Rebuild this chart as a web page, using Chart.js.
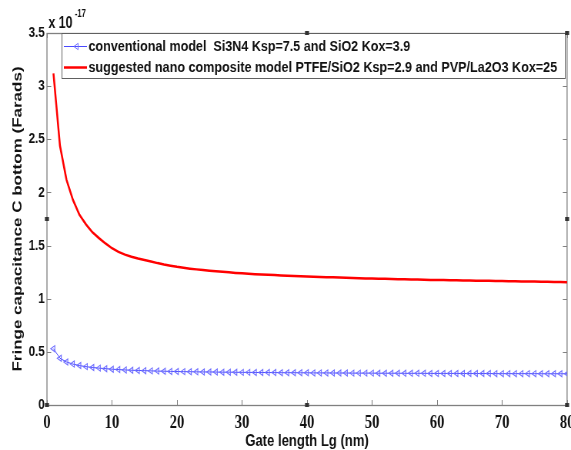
<!DOCTYPE html>
<html>
<head>
<meta charset="utf-8">
<script src="https://cdn.jsdelivr.net/npm/chart.js@4/dist/chart.umd.min.js"></script>
<style>
html,body{margin:0;padding:0;overflow:hidden;background:#fff;width:571px;height:450px;}
#wrap{width:742px;height:450px;transform:scaleX(0.76954);transform-origin:0 0;}
</style>
</head>
<body>
<div id="wrap"><canvas id="c" width="742" height="450"></canvas></div>
<script>
// ---- data ----
const gateLength = [1,2,3,4,5,6,7,8,9,10,11,12,13,14,15,16,17,18,19,20,21,22,23,24,25,26,27,28,29,30,31,32,33,34,35,36,37,38,39,40,41,42,43,44,45,46,47,48,49,50,51,52,53,54,55,56,57,58,59,60,61,62,63,64,65,66,67,68,69,70,71,72,73,74,75,76,77,78,79,80];
const conventional = [0.53,0.44,0.405,0.385,0.371,0.361,0.353,0.347,0.342,0.337,0.333,0.330,0.327,0.325,0.323,0.321,0.319,0.318,0.316,0.315,0.314,0.313,0.312,0.311,0.311,0.310,0.309,0.309,0.308,0.307,0.307,0.306,0.306,0.305,0.305,0.304,0.304,0.304,0.303,0.303,0.302,0.302,0.302,0.301,0.301,0.301,0.300,0.300,0.300,0.300,0.299,0.299,0.299,0.299,0.298,0.298,0.298,0.298,0.297,0.297,0.297,0.297,0.297,0.296,0.296,0.296,0.296,0.296,0.295,0.295,0.295,0.295,0.295,0.295,0.295,0.294,0.294,0.294,0.294,0.294];
const suggested = [3.12,2.44,2.12,1.93,1.79,1.70,1.625,1.57,1.52,1.475,1.44,1.415,1.395,1.378,1.364,1.35,1.335,1.322,1.311,1.300,1.291,1.283,1.276,1.270,1.264,1.258,1.253,1.248,1.243,1.239,1.235,1.231,1.228,1.225,1.222,1.219,1.216,1.213,1.211,1.209,1.207,1.205,1.203,1.201,1.199,1.197,1.195,1.193,1.191,1.190,1.188,1.187,1.185,1.184,1.182,1.181,1.180,1.178,1.177,1.176,1.175,1.174,1.173,1.172,1.171,1.170,1.169,1.168,1.167,1.166,1.165,1.164,1.163,1.162,1.161,1.160,1.159,1.158,1.157,1.156];
const seriesLabels = ['conventional model  Si3N4 Ksp=7.5 and SiO2 Kox=3.9','suggested nano composite model PTFE/SiO2 Ksp=2.9 and PVP/La2O3 Kox=25'];
const xTicks = [0,10,20,30,40,50,60,70,80];
const yTicks = [0,0.5,1,1.5,2,2.5,3,3.5];
const yTickLabels = ['0','0.5','1','1.5','2','2.5','3','3.5'];
const xTitle = 'Gate length Lg (nm)';
const yTitle = 'Fringe capacitance C bottom (Farads)';
const exponentBase = 'x 10';
const exponent = '-17';

const K = 0.76954; // horizontal squeeze
const BLUE_LINE = '#4a4aff';
const BLUE_MARK = '#7070ff';
const RED = '#ff0000';

const frame = {
  id: 'frame',
  beforeDatasetsDraw(chart) {
    const {ctx, chartArea: a, scales: {x, y}} = chart;
    ctx.save();
    ctx.strokeStyle = '#808080';
    ctx.lineWidth = 1;
    ctx.beginPath();
    xTicks.forEach(v => {
      const px = Math.round(x.getPixelForValue(v)) + 0.5;
      ctx.moveTo(px, a.bottom); ctx.lineTo(px, a.bottom - 5);
      ctx.moveTo(px, a.top); ctx.lineTo(px, a.top + 5);
    });
    yTicks.forEach(v => {
      const py = Math.round(y.getPixelForValue(v)) + 0.5;
      ctx.moveTo(a.left, py); ctx.lineTo(a.left + 5.5, py);
      ctx.moveTo(a.right, py); ctx.lineTo(a.right - 5.5, py);
    });
    ctx.stroke();
    ctx.lineWidth = 1.3;
    ctx.strokeRect(a.left, a.top + 0.5, a.right - a.left, a.bottom - a.top);
    ctx.restore();
  },
  afterDraw(chart) {
    const {ctx, chartArea: a} = chart;
    ctx.save();
    // legend
    const lx = 80.5, ly = 33.5, lw = 654, lh = 45;
    ctx.fillStyle = '#fff';
    ctx.fillRect(lx, ly, lw, lh);
    ctx.strokeStyle = '#606060';
    ctx.lineWidth = 1;
    ctx.strokeRect(lx, ly, lw, lh);
    const rows = [46.5, 67.5];
    const ds = chart.data.datasets;
    ctx.font = 'bold 15px "Liberation Sans", Arial, sans-serif';
    ctx.textBaseline = 'middle';
    ctx.textAlign = 'left';
    const widths = [418, 609];
    rows.forEach((ry, i) => {
      ctx.strokeStyle = ds[i].borderColor;
      ctx.lineWidth = i === 0 ? 1 : 2.5;
      ctx.beginPath();
      ctx.moveTo(83, ry); ctx.lineTo(113, ry);
      ctx.stroke();
      if (i === 0) {
        ctx.strokeStyle = BLUE_MARK;
        ctx.lineWidth = 1;
        ctx.beginPath();
        ctx.moveTo(96, ry); ctx.lineTo(101.5, ry - 3.2); ctx.lineTo(101.5, ry + 3.2); ctx.closePath();
        ctx.stroke();
      }
      ctx.fillStyle = '#111';
      const nat = ctx.measureText(ds[i].label).width;
      ctx.save();
      ctx.translate(115, ry + 0.5);
      ctx.scale(widths[i] / nat, 1);
      ctx.fillText(ds[i].label, 0, 0);
      ctx.restore();
    });
    // exponent
    ctx.fillStyle = '#111';
    ctx.textBaseline = 'alphabetic';
    ctx.font = 'bold 16px "Liberation Sans", Arial, sans-serif';
    ctx.fillText(exponentBase, 63, 27.5);
    const w = ctx.measureText(exponentBase).width;
    ctx.font = 'bold 10px "Liberation Sans", Arial, sans-serif';
    ctx.fillText(exponent, 63 + w + 3, 17);
    // selection handles
    ctx.fillStyle = '#333';
    const mx = (a.left + a.right) / 2, my = (a.top + a.bottom) / 2;
    [[mx, a.top], [a.right, a.top], [a.left, my], [a.right, my], [a.left, a.bottom], [mx, a.bottom], [a.right, a.bottom]].forEach(([hx, hy]) => {
      ctx.fillRect(hx - 2.6, hy - 2, 5.2, 4);
    });
    ctx.restore();
  }
};

const bg = {
  id: 'bg',
  beforeDraw(chart) {
    const ctx = chart.ctx;
    ctx.save(); ctx.fillStyle = '#fff'; ctx.fillRect(0, 0, chart.width, chart.height); ctx.restore();
  }
};

new Chart(document.getElementById('c'), {
  type: 'line',
  data: {
    datasets: [
      {
        label: seriesLabels[0],
        data: gateLength.map((g, i) => ({x: g, y: conventional[i]})),
        borderColor: BLUE_LINE,
        borderWidth: 1,
        pointStyle: 'triangle',
        pointRotation: 270,
        pointRadius: 3.5,
        pointBorderColor: BLUE_MARK,
        pointBackgroundColor: 'rgba(255,255,255,0)',
        pointBorderWidth: 1.1,
        tension: 0,
        fill: false
      },
      {
        label: seriesLabels[1],
        data: gateLength.map((g, i) => ({x: g, y: suggested[i]})),
        borderColor: RED,
        borderWidth: 2.5,
        pointRadius: 0,
        tension: 0,
        fill: false
      }
    ]
  },
  options: {
    responsive: false,
    animation: false,
    devicePixelRatio: 1,
    layout: {padding: {top: 33, right: 5, left: 0, bottom: 0}},
    plugins: {legend: {display: false}, tooltip: {enabled: false}},
    scales: {
      x: {
        type: 'linear', min: 0, max: 80,
        grid: {display: false, drawTicks: false},
        border: {display: false},
        afterBuildTicks: s => { s.ticks = xTicks.map(v => ({value: v})); },
        afterFit: s => { s.height = 45; s.paddingLeft = 0; s.paddingRight = 0; },
        ticks: {
          color: '#111', padding: 7, maxRotation: 0, autoSkip: false,
          font: {family: '"Liberation Serif", "Times New Roman", serif', size: 19, weight: 'bold'},
          callback: v => String(v)
        },
        title: {
          display: true, text: xTitle, color: '#111',
          font: {family: '"Liberation Sans", Arial, sans-serif', size: 17, weight: 'bold'},
          padding: {top: 0, bottom: -2}
        }
      },
      y: {
        type: 'linear', min: 0, max: 3.5,
        grid: {display: false, drawTicks: false},
        border: {display: false},
        afterBuildTicks: s => { s.ticks = yTicks.map(v => ({value: v})); },
        afterFit: s => { s.width = 61; s.paddingTop = 0; s.paddingBottom = 0; },
        ticks: {
          color: '#111', padding: 3, autoSkip: false,
          font: {family: '"Liberation Sans", Arial, sans-serif', size: 15, weight: 'bold'},
          callback: (v) => yTickLabels[yTicks.indexOf(v)] ?? String(v)
        },
        title: {
          display: true, text: yTitle, color: '#111',
          font: {family: '"Liberation Sans", Arial, sans-serif', size: 17, weight: 'bold'},
          padding: {top: 13, bottom: 0}
        }
      }
    }
  },
  plugins: [bg, frame]
});
</script>
</body>
</html>
